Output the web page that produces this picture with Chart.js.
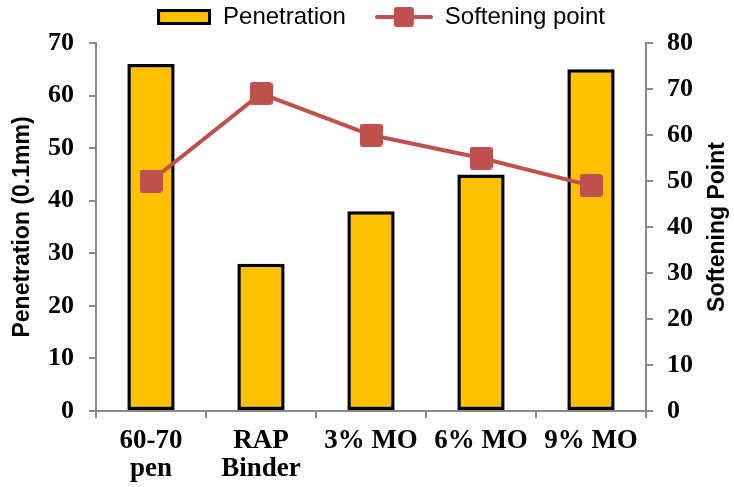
<!DOCTYPE html>
<html>
<head>
<meta charset="utf-8">
<script src="https://cdn.jsdelivr.net/npm/chart.js@4.4.0/dist/chart.umd.min.js"></script>
<style>
html, body { margin: 0; padding: 0; background: #fff; }
</style>
</head>
<body>
<canvas id="myChart" width="734" height="487"></canvas>
<script>
// data
const categories = [['60-70', 'pen'], ['RAP', 'Binder'], '3% MO', '6% MO', '9% MO'];
const penetration = [66, 28, 38, 45, 65];
const softeningPoint = [50, 69, 60, 55, 49];
const penetrationTicks = [0, 10, 20, 30, 40, 50, 60, 70];
const softeningTicks = [0, 10, 20, 30, 40, 50, 60, 70, 80];

const RED = '#C0504D';
const YELLOW = '#FFC000';
const AXIS = '#898989';

function makeCanvas(w, h, draw) {
    const c = document.createElement('canvas');
    c.width = w;
    c.height = h;
    draw(c.getContext('2d'));
    return c;
}

function roundSquare(ctx, x, y, s, r) {
    ctx.beginPath();
    ctx.moveTo(x + r, y);
    ctx.arcTo(x + s, y, x + s, y + s, r);
    ctx.arcTo(x + s, y + s, x, y + s, r);
    ctx.arcTo(x, y + s, x, y, r);
    ctx.arcTo(x, y, x + s, y, r);
    ctx.closePath();
    ctx.fill();
}

// marker on the line
const marker = makeCanvas(23, 23, ctx => {
    ctx.fillStyle = RED;
    roundSquare(ctx, 0, 0, 23, 3);
});

// legend icons (content sits at the right end, left part is spacing)
const ICON_W = 82;
const barIcon = makeCanvas(ICON_W, 18, ctx => {
    ctx.fillStyle = YELLOW;
    ctx.fillRect(ICON_W - 54, 2, 53, 15);
    ctx.strokeStyle = '#000';
    ctx.lineWidth = 3;
    ctx.strokeRect(ICON_W - 52.5, 2.5, 51, 13);
});
const lineIcon = makeCanvas(ICON_W, 22, ctx => {
    ctx.strokeStyle = RED;
    ctx.lineWidth = 4;
    ctx.lineCap = 'round';
    ctx.beginPath();
    ctx.moveTo(ICON_W - 56, 11);
    ctx.lineTo(ICON_W - 2, 11);
    ctx.stroke();
    ctx.fillStyle = RED;
    roundSquare(ctx, ICON_W - 39, 1, 20, 3);
});
const legendIcons = [barIcon, lineIcon];

const legendHeight = {
    id: 'legendHeight',
    afterInit(chart) {
        const fit = chart.legend.fit;
        chart.legend.fit = function () {
            fit.call(this);
            this.height = 43;
        };
    }
};

const titleFont = { family: 'Liberation Sans', size: 23, weight: 'bold' };

// right axis title reads bottom to top, like the left one
const rightTitle = {
    id: 'rightTitle',
    afterDraw(chart) {
        const s = chart.scales.y1;
        const c = chart.ctx;
        c.save();
        c.translate(s.right - 16, (s.top + s.bottom) / 2);
        c.rotate(-Math.PI / 2);
        c.font = 'bold 23px "Liberation Sans"';
        c.fillStyle = '#000';
        c.textAlign = 'center';
        c.textBaseline = 'middle';
        c.fillText('Softening Point', 0, 0);
        c.restore();
    }
};

const tickFont = { family: 'Liberation Serif', size: 26, weight: 'bold' };
const xTickFont = { family: 'Liberation Serif', size: 27, weight: 'bold', lineHeight: 1.05 };

const ctx = document.getElementById('myChart').getContext('2d');
const myChart = new Chart(ctx, {
    data: {
        labels: categories,
        datasets: [{
            type: 'bar',
            label: 'Penetration',
            data: penetration,
            backgroundColor: YELLOW,
            borderColor: '#000',
            borderWidth: 3.5,
            borderSkipped: false,
            barPercentage: 0.43,
            categoryPercentage: 1,
            yAxisID: 'y',
            order: 1
        }, {
            type: 'line',
            label: 'Softening point',
            data: softeningPoint,
            borderColor: RED,
            borderWidth: 4,
            pointStyle: marker,
            pointRadius: 11,
            pointBackgroundColor: RED,
            yAxisID: 'y1',
            order: 0
        }]
    },
    options: {
        responsive: false,
        animation: false,
        layout: { padding: 0 },
        plugins: {
            tooltip: { enabled: false },
            legend: {
                position: 'top',
                labels: {
                    usePointStyle: true,
                    pointStyleWidth: ICON_W,
                    padding: 5,
                    color: '#000',
                    font: { family: 'Liberation Sans', size: 24 },
                    sort: (a, b) => a.datasetIndex - b.datasetIndex,
                    generateLabels(chart) {
                        const items = Chart.defaults.plugins.legend.labels.generateLabels(chart);
                        items.forEach(it => { it.pointStyle = legendIcons[it.datasetIndex]; });
                        return items;
                    }
                }
            }
        },
        scales: {
            x: {
                grid: { drawOnChartArea: false, tickLength: 7, color: AXIS, lineWidth: 2, offset: true },
                border: { color: AXIS, width: 2 },
                ticks: { color: '#000', font: xTickFont, padding: 9, maxRotation: 0, autoSkip: false },
                afterFit(s) { s.height = 76; }
            },
            y: {
                position: 'left',
                min: penetrationTicks[0],
                max: penetrationTicks[penetrationTicks.length - 1],
                afterBuildTicks(s) { s.ticks = penetrationTicks.map(v => ({ value: v })); },
                grid: { drawOnChartArea: false, tickLength: 7, color: AXIS, lineWidth: 2 },
                border: { color: AXIS, width: 2 },
                ticks: { color: '#000', font: tickFont, padding: 15 },
                title: { display: true, text: 'Penetration (0.1mm)', color: '#000', font: titleFont, padding: { top: 9, bottom: 0 } },
                afterFit(s) { s.width = 96; }
            },
            y1: {
                position: 'right',
                min: softeningTicks[0],
                max: softeningTicks[softeningTicks.length - 1],
                afterBuildTicks(s) { s.ticks = softeningTicks.map(v => ({ value: v })); },
                grid: { drawOnChartArea: false, tickLength: 7, color: AXIS, lineWidth: 2 },
                border: { color: AXIS, width: 2 },
                ticks: { color: '#000', font: tickFont, padding: 14 },
                afterFit(s) { s.width = 88; }
            }
        }
    },
    plugins: [legendHeight, rightTitle]
});
</script>
</body>
</html>
